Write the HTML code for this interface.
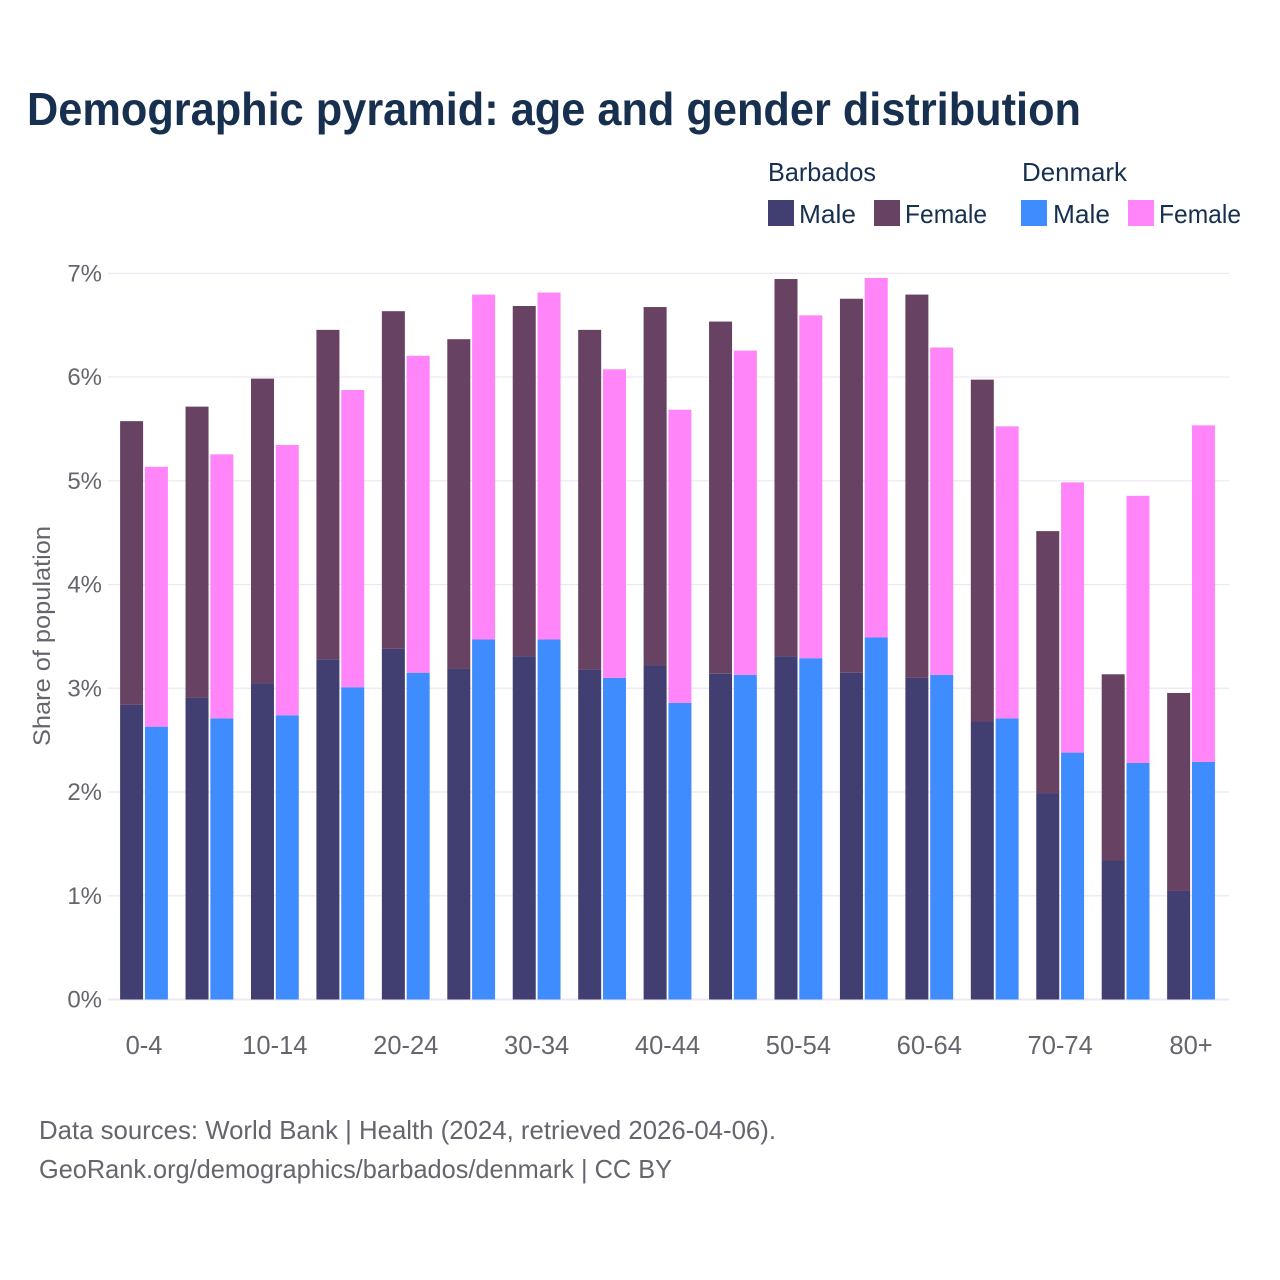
<!DOCTYPE html>
<html lang="en">
<head>
<meta charset="utf-8">
<title>Demographic pyramid: age and gender distribution</title>
<style>
html,body{margin:0;padding:0;background:#fff;}
svg{display:block;font-family:"Liberation Sans",sans-serif;}
</style>
</head>
<body>
<svg id="chart" width="1280" height="1280" viewBox="0 0 1280 1280" xmlns="http://www.w3.org/2000/svg">
<rect x="0" y="0" width="1280" height="1280" fill="#ffffff"/>
<text x="27" y="125" font-size="46" font-weight="bold" fill="#18304f" textLength="1054" lengthAdjust="spacingAndGlyphs">Demographic pyramid: age and gender distribution</text>
<g font-size="26" fill="#18304f">
<text x="768" y="181" textLength="108" lengthAdjust="spacingAndGlyphs">Barbados</text>
<text x="1022" y="181" textLength="105" lengthAdjust="spacingAndGlyphs">Denmark</text>
<rect x="768" y="200" width="26" height="26" fill="#413f72"/>
<text x="799" y="223" textLength="57" lengthAdjust="spacingAndGlyphs">Male</text>
<rect x="874" y="200" width="26" height="26" fill="#684263"/>
<text x="905" y="223" textLength="82" lengthAdjust="spacingAndGlyphs">Female</text>
<rect x="1021" y="200" width="26" height="26" fill="#3f8cff"/>
<text x="1053" y="223" textLength="57" lengthAdjust="spacingAndGlyphs">Male</text>
<rect x="1128" y="200" width="26" height="26" fill="#ff85f9"/>
<text x="1159" y="223" textLength="82" lengthAdjust="spacingAndGlyphs">Female</text>
</g>
<g id="grid"></g>
<g id="bars"></g>
<g id="y-ticks"></g>
<g id="x-ticks"></g>
<text transform="translate(50 636) rotate(-90)" text-anchor="middle" font-size="24" fill="#67646e" textLength="220" lengthAdjust="spacingAndGlyphs">Share of population</text>
<g font-size="26" fill="#67646e">
<text x="39" y="1139" textLength="737" lengthAdjust="spacingAndGlyphs">Data sources: World Bank | Health (2024, retrieved 2026-04-06).</text>
<text x="39" y="1178" textLength="633" lengthAdjust="spacingAndGlyphs">GeoRank.org/demographics/barbados/denmark | CC BY</text>
</g>
</svg>
<script>
const categories = ["0-4","5-9","10-14","15-19","20-24","25-29","30-34","35-39","40-44","45-49","50-54","55-59","60-64","65-69","70-74","75-79","80+"];
const barbadosMale = [2.84,2.91,3.05,3.28,3.38,3.19,3.31,3.18,3.22,3.14,3.31,3.15,3.10,2.68,1.99,1.34,1.05];
const barbadosFemale = [2.735,2.805,2.935,3.175,3.255,3.175,3.375,3.275,3.455,3.395,3.635,3.605,3.695,3.295,2.525,1.795,1.905];
const denmarkMale = [2.63,2.71,2.74,3.01,3.15,3.47,3.47,3.10,2.86,3.13,3.29,3.49,3.13,2.71,2.38,2.28,2.29];
const denmarkFemale = [2.505,2.545,2.605,2.865,3.055,3.325,3.345,2.975,2.825,3.125,3.305,3.465,3.155,2.815,2.605,2.575,3.245];
const yTicks = [0,1,2,3,4,5,6,7];
const xLabelStep = 2;

const NS = "http://www.w3.org/2000/svg";
const yScale = v => 999.5 - v * 103.74;
const xCenter = i => 144 + i * 65.44;
const BAR_W = 23;
const BAR_GAP = 1.4;

const gridGroup = document.getElementById("grid");
const yTickGroup = document.getElementById("y-ticks");
const xTickGroup = document.getElementById("x-ticks");
const barGroup = document.getElementById("bars");

yTicks.forEach(t => {
  const line = document.createElementNS(NS, "line");
  
  
  line.setAttribute("x1", 108);
  line.setAttribute("x2", 1229);
  line.setAttribute("y1", yScale(t));
  line.setAttribute("y2", yScale(t));
  line.setAttribute("stroke", t === 0 ? "#efe6f4" : "#ece6f2");
  line.setAttribute("stroke-width", t === 0 ? 2 : 1.2);
  gridGroup.appendChild(line);

  const label = document.createElementNS(NS, "text");
  
  
  label.setAttribute("x", 102);
  label.setAttribute("y", yScale(t) + 8);
  label.setAttribute("text-anchor", "end");
  label.setAttribute("font-size", 24);
  label.setAttribute("fill", "#67646e");
  label.textContent = t + "%";
  yTickGroup.appendChild(label);
});

function drawBar(x, base, value, fill, name) {
  const r = document.createElementNS(NS, "rect");
  
  
  r.setAttribute("x", x);
  r.setAttribute("width", BAR_W);
  r.setAttribute("y", yScale(base + value));
  r.setAttribute("height", yScale(base) - yScale(base + value));
  r.setAttribute("fill", fill);
  barGroup.appendChild(r);
}

categories.forEach((c, i) => {
  const cx = xCenter(i);
  const bx = cx - BAR_W - BAR_GAP / 2 - 0.2;
  const dx = cx + BAR_GAP / 2 + 0.2;
  drawBar(bx, 0, barbadosMale[i], "#413f72", "bar-barbados-male");
  drawBar(bx, barbadosMale[i], barbadosFemale[i], "#684263", "bar-barbados-female");
  drawBar(dx, 0, denmarkMale[i], "#3f8cff", "bar-denmark-male");
  drawBar(dx, denmarkMale[i], denmarkFemale[i], "#ff85f9", "bar-denmark-female");

  if (i % xLabelStep === 0) {
    const label = document.createElementNS(NS, "text");
    
    
    label.setAttribute("x", cx);
    label.setAttribute("y", 1054);
    label.setAttribute("text-anchor", "middle");
    label.setAttribute("font-size", 25.5);
    label.setAttribute("fill", "#67646e");
    label.textContent = c;
    xTickGroup.appendChild(label);
  }
});
</script>
</body>
</html>
